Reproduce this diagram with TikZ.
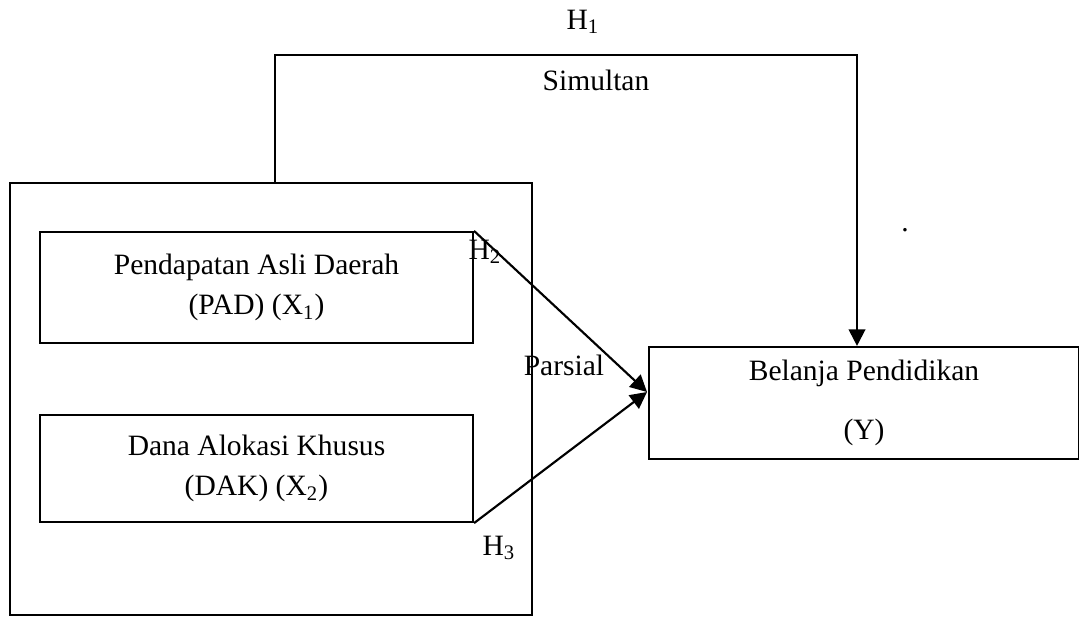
\documentclass[tikz,border=0pt]{standalone}
\usepackage{fontspec}
\setmainfont{Liberation Serif}
\usepackage{tikz}
\usetikzlibrary{positioning,arrows.meta}

\begin{document}
\begin{tikzpicture}[x=0.42pt, y=-0.42pt,
            box/.style={draw, line width=0.9pt, align=center, inner sep=0pt, font=\fontsize{12.4}{17}\selectfont},
            lbl/.style={font=\fontsize{12.4}{14}\selectfont, inner sep=0pt},
            arr/.style={line width=0.9pt, -{Triangle[length=7pt, width=7pt]}},]

        \useasboundingbox (0,0) rectangle (1079,616);

        % Nodes variabel
        \node[box, minimum width=522*0.42pt, minimum height=432*0.42pt] (luar) at (271,399) {};
        \node[box, minimum width=433*0.42pt, minimum height=111*0.42pt] (pad)  at (256.5,287.5)
            {Pendapatan Asli Daerah\\(PAD) (X\textsubscript{1})};
        \node[box, minimum width=433*0.42pt, minimum height=107*0.42pt] (dak)  at (256.5,468.5)
            {Dana Alokasi Khusus\\(DAK) (X\textsubscript{2})};
        \node[box, minimum width=430*0.42pt, minimum height=112*0.42pt] (belanja) at (864,403)
            {Belanja Pendidikan\\[8pt](Y)};

        % Label
        \node[lbl] (h1)       at (583,22)  {H\textsubscript{1}};
        \node[lbl] (simultan) at (596,80)  {Simultan};
        \node[lbl] (h2)       at (485,252) {H\textsubscript{2}};
        \node[lbl] (parsial)  at (564,365) {Parsial};
        \node[lbl] (h3)       at (499,548) {H\textsubscript{3}};
        \node[lbl] (titik)    at (905,230) {.};

        \coordinate (kiri)  at (275,55);
        \coordinate (kanan) at (857,55);
        \coordinate (temu)  at (647,392);

        \draw[arr] (luar.north -| kiri) -- (kiri) -- (kanan) -- (kanan |- belanja.north);
        \draw[arr] (pad.north east) -- (temu);
        \draw[arr] (dak.south east) -- (temu);
    \end{tikzpicture}
\end{document}
